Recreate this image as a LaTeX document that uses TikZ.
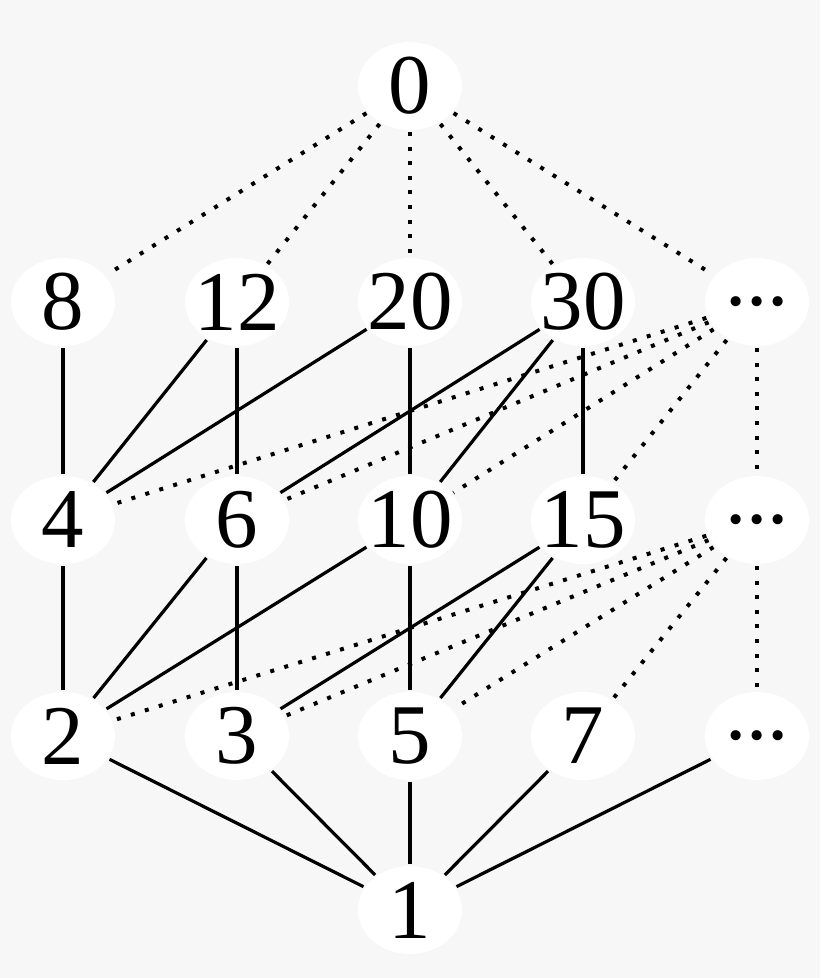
\documentclass[tikz,border=0pt]{standalone}
\usepackage{fontspec}
\setmainfont{Liberation Serif}
\usetikzlibrary{shapes}

\definecolor{bggray}{RGB}{247,247,247}

\begin{document}
\begin{tikzpicture}[
    x=1pt, y=-1pt,
    elem/.style={ellipse, fill=white, minimum width=104pt, minimum height=88pt, inner sep=0pt, outer sep=2pt, font=\fontsize{85}{85}\selectfont},
    solidedge/.style={line width=3.2pt},
    dotedge/.style={line width=4pt, dash pattern=on 4pt off 10.6pt}
]

% Background
\fill[bggray] (0,0) rectangle (820,978);

% Top
\node[elem] (n0) at (410,86) {\makebox[0pt]{0}};

% Second row
\node[elem] (n8) at (63,302) {\makebox[0pt]{8}};
\node[elem] (n12) at (237,302) {\makebox[0pt]{12}};
\node[elem] (n20) at (410,302) {\makebox[0pt]{20}};
\node[elem] (n30) at (583,302) {\makebox[0pt]{30}};
\node[elem] (dotsA) at (757,302) {\makebox[0pt]{...}};

% Third row
\node[elem] (n4) at (63,520) {\makebox[0pt]{4}};
\node[elem] (n6) at (237,520) {\makebox[0pt]{6}};
\node[elem] (n10) at (410,520) {\makebox[0pt]{10}};
\node[elem] (n15) at (583,520) {\makebox[0pt]{15}};
\node[elem] (dotsB) at (757,520) {\makebox[0pt]{...}};

% Fourth row
\node[elem] (n2) at (63,736) {\makebox[0pt]{2}};
\node[elem] (n3) at (237,736) {\makebox[0pt]{3}};
\node[elem] (n5) at (410,736) {\makebox[0pt]{5}};
\node[elem] (n7) at (583,736) {\makebox[0pt]{7}};
\node[elem] (dotsC) at (757,736) {\makebox[0pt]{...}};

% Bottom
\node[elem] (n1) at (410,910) {\makebox[0pt]{1}};

% Dotted edges
\draw[dotedge] (n0) -- (n8);
\draw[dotedge] (n0) -- (n12);
\draw[dotedge] (n0) -- (n20);
\draw[dotedge] (n0) -- (n30);
\draw[dotedge] (n0) -- (dotsA);
\draw[dotedge] (dotsA) -- (n4);
\draw[dotedge] (dotsA) -- (n6);
\draw[dotedge] (dotsA) -- (n10);
\draw[dotedge] (dotsA) -- (n15);
\draw[dotedge] (dotsA) -- (dotsB);
\draw[dotedge] (dotsB) -- (n2);
\draw[dotedge] (dotsB) -- (n3);
\draw[dotedge] (dotsB) -- (n5);
\draw[dotedge] (dotsB) -- (n7);
\draw[dotedge] (dotsB) -- (dotsC);

% Solid edges
\draw[solidedge] (n8) -- (n4);
\draw[solidedge] (n12) -- (n4);
\draw[solidedge] (n12) -- (n6);
\draw[solidedge] (n20) -- (n4);
\draw[solidedge] (n20) -- (n10);
\draw[solidedge] (n30) -- (n6);
\draw[solidedge] (n30) -- (n10);
\draw[solidedge] (n30) -- (n15);
\draw[solidedge] (n4) -- (n2);
\draw[solidedge] (n6) -- (n2);
\draw[solidedge] (n6) -- (n3);
\draw[solidedge] (n10) -- (n2);
\draw[solidedge] (n10) -- (n5);
\draw[solidedge] (n15) -- (n3);
\draw[solidedge] (n15) -- (n5);
\draw[solidedge] (n2) -- (n1);
\draw[solidedge] (n3) -- (n1);
\draw[solidedge] (n5) -- (n1);
\draw[solidedge] (n7) -- (n1);
\draw[solidedge] (dotsC) -- (n1);

\end{tikzpicture}
\end{document}
